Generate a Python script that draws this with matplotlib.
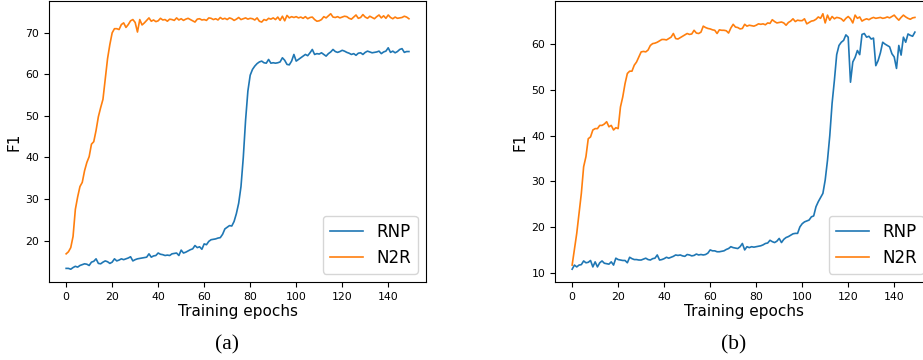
import numpy as np
import matplotlib
matplotlib.use("Agg")
import matplotlib.pyplot as plt

# F1 per training epoch
rnp_a = [13.3, 13.3, 13.1, 13.5, 13.8, 13.6, 14.0, 14.2, 14.4, 14.3,
         14.0, 14.8, 15.0, 15.6, 14.5, 14.4, 14.8, 15.1, 14.9, 14.5,
         14.8, 15.6, 15.1, 15.3, 15.6, 15.4, 15.6, 15.8, 16.1, 15.1,
         15.4, 15.6, 15.7, 15.8, 15.9, 16.0, 16.8, 16.0, 16.3, 16.4,
         17.0, 16.7, 16.6, 16.4, 16.5, 16.4, 16.8, 16.9, 17.0, 16.4,
         17.7, 17.0, 17.2, 17.5, 17.8, 18.0, 18.8, 18.3, 18.5, 17.9,
         19.2, 19.0, 19.8, 20.2, 20.3, 20.4, 20.6, 20.7, 21.5, 22.8,
         23.2, 23.6, 23.5, 24.6, 26.5, 29.0, 33.0, 40.0, 49.0, 56.0,
         59.8, 61.2, 62.0, 62.6, 63.0, 63.2, 62.8, 62.7, 63.6, 62.7,
         62.8, 62.7, 62.8, 63.0, 64.0, 63.4, 62.4, 62.3, 63.2, 64.8,
         63.2, 63.6, 64.0, 64.4, 64.8, 64.5, 65.2, 66.0, 64.8, 65.0,
         64.9, 65.2, 64.8, 64.4, 65.0, 65.4, 66.0, 65.5, 65.3, 65.5,
         65.8, 65.6, 65.3, 65.1, 64.8, 65.0, 64.6, 65.1, 65.2, 64.8,
         65.3, 65.6, 65.4, 65.2, 65.3, 65.4, 65.6, 65.0, 65.4, 65.6,
         66.4, 65.3, 65.6, 65.2, 65.5, 66.0, 66.2, 65.3, 65.5, 65.5]

n2r_a = [16.8, 17.3, 18.3, 21.0, 27.5, 30.5, 33.0, 34.0, 36.8, 38.8,
         40.2, 43.2, 43.8, 46.5, 49.8, 52.0, 54.0, 58.8, 63.8, 67.2,
         70.0, 71.0, 71.0, 70.8, 72.0, 72.4, 71.3, 72.0, 72.9, 73.2,
         72.5, 70.2, 73.2, 71.9, 72.4, 73.0, 73.6, 72.8, 73.1, 72.7,
         72.9, 73.5, 73.1, 73.2, 72.8, 73.3, 73.2, 73.0, 73.6, 73.1,
         73.4, 73.0, 73.3, 73.5, 73.2, 72.9, 72.6, 73.3, 73.4, 73.1,
         73.2, 73.0, 73.6, 73.5, 73.2, 73.4, 73.1, 73.7, 73.3, 73.5,
         73.2, 73.6, 73.4, 73.0, 73.3, 73.7, 73.2, 73.4, 73.6, 73.3,
         73.5, 73.4, 73.1, 73.6, 72.8, 72.6, 73.2, 73.0, 73.5, 73.3,
         73.6, 73.2, 73.8, 73.0, 74.0, 72.9, 74.2, 73.6, 73.9, 73.7,
         73.9, 73.6, 73.8, 73.5, 73.9, 73.4, 73.7, 73.8, 73.2, 72.8,
         72.9, 73.2, 73.9, 73.6, 74.1, 74.6, 73.8, 73.7, 73.9, 73.6,
         73.8, 74.0, 73.9, 73.5, 73.3, 73.8, 74.3, 73.5, 73.7, 74.4,
         73.8, 73.5, 74.0, 73.7, 73.4, 73.9, 74.3, 73.6, 74.1, 73.5,
         74.3, 73.7, 73.4, 73.8, 73.5, 73.6, 73.7, 74.0, 73.8, 73.4]

rnp_b = [10.9, 11.8, 11.4, 11.8, 11.9, 12.7, 12.3, 12.4, 12.8, 11.4,
         12.5, 11.4, 12.3, 12.7, 12.2, 12.1, 12.0, 12.5, 11.8, 13.3,
         13.0, 12.9, 12.8, 12.8, 12.3, 13.5, 13.2, 13.0, 13.0, 12.9,
         12.9, 13.1, 13.3, 13.0, 12.9, 13.2, 13.3, 14.0, 12.9, 13.0,
         13.2, 13.5, 13.3, 13.5, 13.7, 14.0, 13.9, 14.0, 13.8, 13.7,
         14.1, 14.0, 13.8, 13.9, 14.2, 14.0, 14.1, 14.0, 14.1, 14.4,
         15.1, 14.9, 14.9, 14.7, 14.7, 14.8, 14.9, 15.2, 15.4, 15.8,
         15.6, 15.5, 15.4, 15.8, 16.5, 15.1, 15.8, 15.6, 15.8, 15.7,
         15.8, 15.9, 16.0, 16.2, 16.5, 16.6, 17.2, 16.9, 16.7, 17.0,
         17.6, 16.7, 17.4, 17.8, 18.0, 18.3, 18.6, 18.7, 18.7, 20.1,
         20.8, 21.2, 21.4, 21.6, 22.3, 22.5, 24.5, 25.6, 26.5, 27.4,
         30.3, 34.6, 40.0, 47.0, 52.0, 57.6, 59.6, 60.3, 60.7, 61.9,
         61.4, 51.6, 56.0, 57.0, 58.5, 57.6, 62.0, 62.2, 61.4, 61.6,
         61.0, 61.2, 55.2, 56.3, 58.0, 60.3, 59.9, 59.6, 59.3, 57.8,
         57.1, 54.6, 59.6, 57.5, 61.4, 60.3, 62.1, 61.8, 61.6, 62.5]

n2r_b = [11.8, 15.3, 18.7, 23.0, 27.4, 33.2, 35.4, 39.3, 39.7, 41.2,
         41.5, 41.5, 42.2, 42.2, 42.5, 43.0, 41.9, 42.2, 41.2, 41.7,
         41.5, 46.2, 48.4, 51.3, 53.5, 54.0, 54.0, 55.3, 56.0, 57.1,
         58.2, 58.3, 58.2, 58.6, 59.6, 60.0, 60.1, 60.3, 60.6, 60.9,
         60.9, 60.8, 61.1, 61.4, 62.2, 61.1, 61.0, 61.3, 61.6, 61.9,
         62.2, 62.0, 62.1, 62.9, 62.3, 62.2, 62.5, 63.8, 63.5, 63.3,
         63.2, 63.0, 62.9, 62.2, 63.0, 62.9, 62.9, 62.8, 62.3, 63.4,
         64.2, 63.6, 63.5, 63.2, 63.3, 64.2, 63.8, 64.0, 63.9, 63.8,
         64.0, 64.3, 64.2, 64.3, 64.1, 64.5, 64.4, 65.2, 64.8, 64.5,
         64.6, 64.7, 64.5, 64.0, 64.6, 64.9, 65.4, 64.8, 65.1, 65.0,
         65.0, 65.4, 64.3, 64.6, 64.9, 65.0, 65.3, 65.8, 65.5, 66.5,
         64.5, 66.2, 65.1, 65.9, 65.4, 65.7, 65.6, 65.4, 64.9, 65.5,
         65.9, 65.4, 64.5, 66.2, 65.5, 65.8, 64.9, 65.2, 65.4, 65.2,
         65.5, 65.7, 65.5, 65.6, 65.7, 65.5, 65.6, 65.8, 65.6, 65.9,
         66.2, 65.6, 65.1, 65.7, 66.2, 65.8, 65.5, 65.3, 65.6, 65.7]

panels = [("(a)", rnp_a, n2r_a), ("(b)", rnp_b, n2r_b)]

fig = plt.figure(figsize=(9.23, 3.6), dpi=100)
# right panel runs past the figure edge, like the cropped original
lefts = [0.0531, 0.6013]
for left, (tag, rnp, n2r) in zip(lefts, panels):
    ax = fig.add_axes([left, 0.2167, 0.4085, 0.7806])
    ax.plot(np.arange(len(rnp)), rnp, color="#1f77b4", lw=1.2, label="RNP")
    ax.plot(np.arange(len(n2r)), n2r, color="#ff7f0e", lw=1.2, label="N2R")
    ax.set_xticks([0, 20, 40, 60, 80, 100, 120, 140])
    ax.tick_params(labelsize=7.8, length=3.5, width=0.8)
    ax.set_xlabel("Training epochs", fontsize=11, labelpad=2)
    ax.set_ylabel("F1", fontsize=11, labelpad=3)
    ax.legend(loc="lower right", fontsize=12)
    fig.text(left + 0.193, 0.042, tag, ha="center", va="center",
             fontsize=15.5, family="Liberation Serif")

fig.savefig("out.png", dpi=100)
